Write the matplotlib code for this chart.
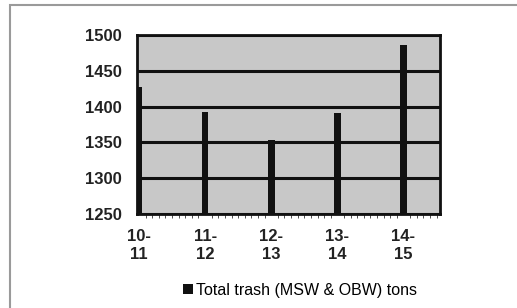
import numpy as np
import matplotlib.pyplot as plt
from matplotlib.patches import Rectangle
from matplotlib.ticker import MultipleLocator

plt.rcParams['font.family'] = ['Liberation Sans', 'DejaVu Sans']

years = ['10-\n11', '11-\n12', '12-\n13', '13-\n14', '14-\n15']
trash_tons = [1428, 1393, 1353, 1391, 1486]

fig = plt.figure(figsize=(5.17, 3.08), dpi=100)
fig.patch.set_facecolor('white')
# outer chart frame
fig.add_artist(Rectangle((0.02, -0.05), 1.0, 1.033, transform=fig.transFigure,
                         fill=False, edgecolor='#9a9a9a', linewidth=1.5))

ax = fig.add_axes([0.265, 0.305, 0.587, 0.581])
ax.set_facecolor('#c8c8c8')
x = np.arange(len(years))
ax.bar(x, [v - 1250 for v in trash_tons], bottom=1250, width=0.1, color='#111111',
       zorder=3, label='Total trash (MSW & OBW) tons')

ax.set_ylim(1250, 1500)
ax.set_xlim(-0.03, 4.56)
ax.set_yticks([1250, 1300, 1350, 1400, 1450, 1500])
ax.set_xticks(x)
ax.set_xticklabels(years, fontsize=12, fontweight='bold', color='#222222', linespacing=1.2)
ax.tick_params(axis='y', labelsize=12, length=0, pad=11, labelcolor='#222222')
ax.tick_params(axis='x', length=0, pad=11)
ax.xaxis.set_minor_locator(MultipleLocator(0.1))
ax.tick_params(axis='x', which='minor', length=3, color='#333333', direction='out')
for lbl in ax.get_yticklabels():
    lbl.set_fontweight('bold')

ax.grid(axis='y', color='#111111', linewidth=2.2, zorder=1)
for s in ax.spines.values():
    s.set_color('#111111')
    s.set_linewidth(2)

fig.legend(loc='center', bbox_to_anchor=(0.58, 0.058), frameon=False, fontsize=11.5,
           handlelength=0.6, handleheight=0.6, handletextpad=0.2, borderpad=0)

fig.savefig('out.png', dpi=100)
